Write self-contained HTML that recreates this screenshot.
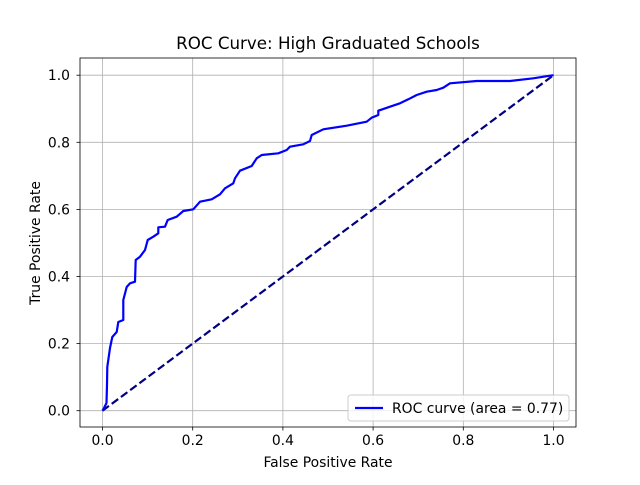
<!DOCTYPE html>
<html><head><meta charset="utf-8"><style>body{margin:0;background:#fff}</style></head><body>
<svg width="640" height="480" viewBox="0 0 640 480" xmlns="http://www.w3.org/2000/svg" font-family="DejaVu Sans, sans-serif">
<rect width="640" height="480" fill="#fff"/>
<g stroke="#b0b0b0" stroke-width="0.8">
<line x1="102.5" y1="58" x2="102.5" y2="427"/><line x1="192.7" y1="58" x2="192.7" y2="427"/><line x1="282.9" y1="58" x2="282.9" y2="427"/><line x1="373.1" y1="58" x2="373.1" y2="427"/><line x1="463.3" y1="58" x2="463.3" y2="427"/><line x1="553.5" y1="58" x2="553.5" y2="427"/>
<line x1="80" y1="410.7" x2="576" y2="410.7"/><line x1="80" y1="343.6" x2="576" y2="343.6"/><line x1="80" y1="276.5" x2="576" y2="276.5"/><line x1="80" y1="209.4" x2="576" y2="209.4"/><line x1="80" y1="142.3" x2="576" y2="142.3"/><line x1="80" y1="75.2" x2="576" y2="75.2"/>
</g>
<line x1="102.5" y1="410.7" x2="553.5" y2="75.2" stroke="#000080" stroke-width="2.2" stroke-dasharray="8,3.5"/>
<polyline fill="none" stroke="#0000ff" stroke-width="2.2" stroke-linejoin="round" points="102.5,410.7 104,408 106.5,403 107,385 107.3,367 110,348 112.3,337 116.7,332 118.3,322 123.3,320 123.3,300 126.7,287 130,283.3 135,281.7 135.7,260 140,256.7 145,250 147.7,240 153.3,236.7 158.3,233.3 158.3,227.3 165,226.7 167.7,220 176.7,216.7 183.3,211 193.3,209.3 200,201.7 211.7,199.3 220,194.3 225,188.3 233.3,183.3 235,178.3 240,170.7 251.7,166 256.7,158.3 261.7,155 278.3,153.3 286.7,150 290,146.7 303.3,144.3 310,141 311.7,135 323.3,129.3 346.7,125.7 366.7,121.7 371.7,117.7 378.3,115 378.3,110.7 390,106.7 400,103.3 408.3,99.3 416.7,95 426.7,91.7 436.7,90 443.3,87.7 450,83.3 476.7,81 510,81 533.3,78.3 550,75.7 553.5,75.2"/>
<rect x="80" y="58" width="496" height="369" fill="none" stroke="#000" stroke-width="0.8"/>
<g stroke="#000" stroke-width="0.8">
<line x1="102.5" y1="427" x2="102.5" y2="430.5"/><line x1="192.7" y1="427" x2="192.7" y2="430.5"/><line x1="282.9" y1="427" x2="282.9" y2="430.5"/><line x1="373.1" y1="427" x2="373.1" y2="430.5"/><line x1="463.3" y1="427" x2="463.3" y2="430.5"/><line x1="553.5" y1="427" x2="553.5" y2="430.5"/>
<line x1="76.5" y1="410.7" x2="80" y2="410.7"/><line x1="76.5" y1="343.6" x2="80" y2="343.6"/><line x1="76.5" y1="276.5" x2="80" y2="276.5"/><line x1="76.5" y1="209.4" x2="80" y2="209.4"/><line x1="76.5" y1="142.3" x2="80" y2="142.3"/><line x1="76.5" y1="75.2" x2="80" y2="75.2"/>
</g>
<g font-size="13.9" fill="#000" text-anchor="middle">
<text x="102.5" y="445">0.0</text><text x="192.7" y="445">0.2</text><text x="282.9" y="445">0.4</text><text x="373.1" y="445">0.6</text><text x="463.3" y="445">0.8</text><text x="553.5" y="445">1.0</text>
</g>
<g font-size="13.9" fill="#000" text-anchor="end">
<text x="70" y="415.5">0.0</text><text x="70" y="348.5">0.2</text><text x="70" y="281.5">0.4</text><text x="70" y="214.5">0.6</text><text x="70" y="147.5">0.8</text><text x="70" y="80">1.0</text>
</g>
<text x="328" y="467" font-size="13.9" text-anchor="middle">False Positive Rate</text>
<text transform="translate(40,243) rotate(-90)" font-size="13.9" text-anchor="middle">True Positive Rate</text>
<text x="328" y="49" font-size="16.7" text-anchor="middle">ROC Curve: High Graduated Schools</text>
<rect x="348" y="395" width="221" height="26" rx="3" fill="#fff" fill-opacity="0.8" stroke="#ccc"/>
<line x1="355" y1="408" x2="383" y2="408" stroke="#0000ff" stroke-width="2.2"/>
<text x="392" y="413" font-size="13.9">ROC curve (area = 0.77)</text>
</svg>
</body></html>
